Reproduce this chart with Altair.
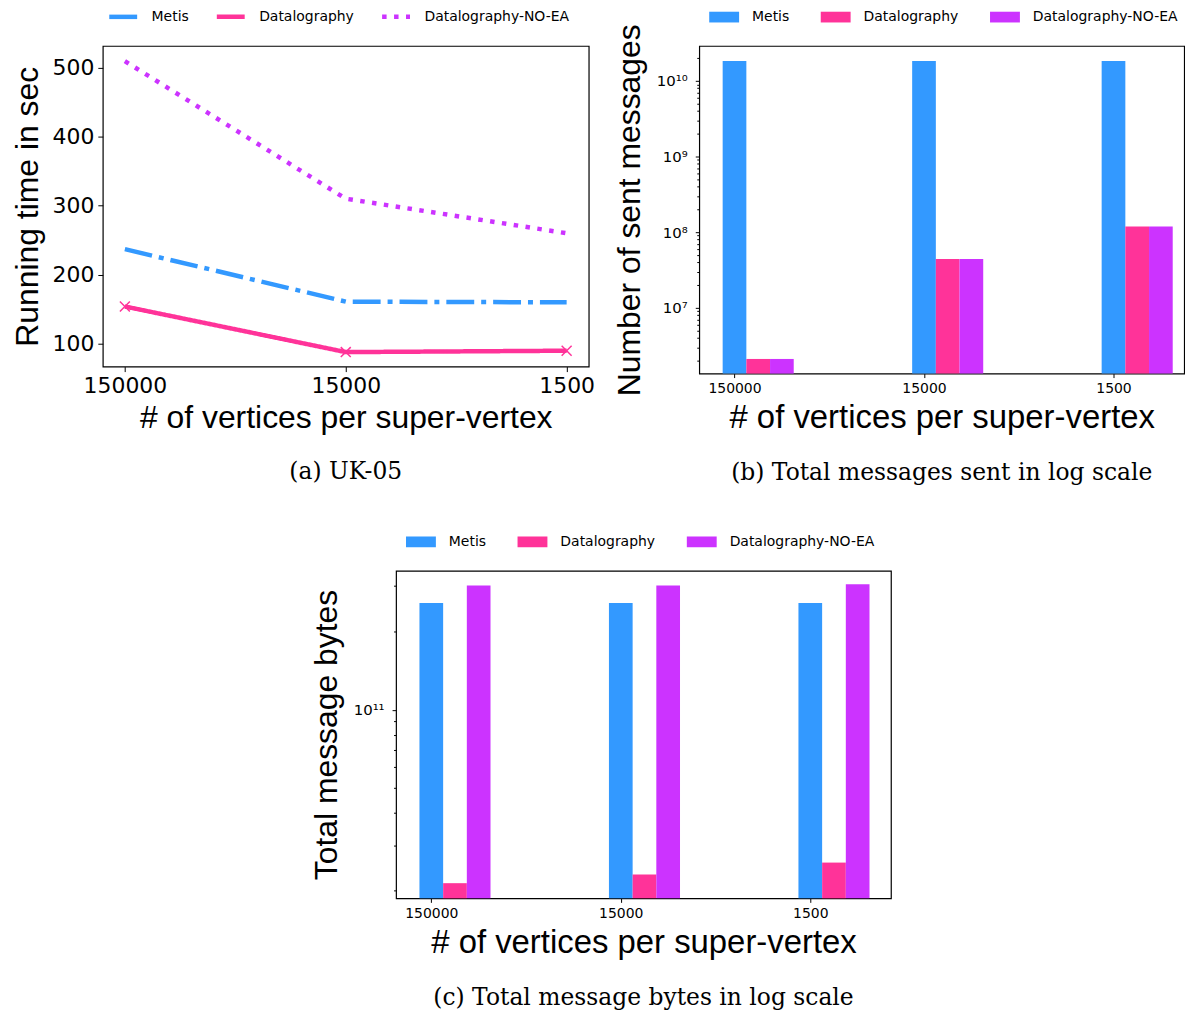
import json
import math
import altair as alt
import pandas as pd

# ---------------- data ----------------
categories = ["150000", "15000", "1500"]
series_names = ["Metis", "Datalography", "Datalography-NO-EA"]
series_colors = ["#3399FF", "#FF3399", "#CC33FF"]

runtime_metis = [237, 161, 160]
runtime_datalography = [154, 88, 90]
runtime_noea = [509, 310, 260]

sent_metis = [1.83e10, 1.83e10, 1.83e10]
sent_datalography = [2.1e6, 4.4e7, 1.19e8]
sent_noea = [2.1e6, 4.4e7, 1.19e8]

bytes_metis = [2.58e11, 2.58e11, 2.58e11]
bytes_datalography = [2.14e10, 2.31e10, 2.57e10]
bytes_noea = [3.02e11, 3.02e11, 3.05e11]

BAR_W = 0.125


def long_df(series_lists):
    rows = []
    for s_i, (name, vals) in enumerate(zip(series_names, series_lists)):
        for c_i, (cat, v) in enumerate(zip(categories, vals)):
            rows.append({"series": name, "cat": cat, "idx": c_i, "s_i": s_i, "value": v})
    df = pd.DataFrame(rows)
    df["x0"] = df["idx"] + df["s_i"] * BAR_W - BAR_W / 2
    df["x1"] = df["x0"] + BAR_W
    return df


cat_expr = json.dumps(categories) + "[datum.value]"

SUP = {"0": "\u2070", "1": "\u00b9", "2": "\u00b2", "3": "\u00b3", "4": "\u2074",
       "5": "\u2075", "6": "\u2076", "7": "\u2077", "8": "\u2078", "9": "\u2079"}


def log_axis_parts(lo, hi):
    ticks, majors = [], []
    for e in range(int(math.floor(math.log10(lo))), int(math.ceil(math.log10(hi))) + 1):
        for m in range(1, 10):
            v = float(m * 10 ** e)
            if lo <= v <= hi:
                ticks.append(v)
                if m == 1:
                    majors.append((v, e))
    expr = "''"
    test = "false"
    for v, e in reversed(majors):
        lab = "10" + "".join(SUP[c] for c in str(e))
        expr = f"datum.value == {v:.0f} ? '{lab}' : ({expr})"
        test = f"datum.value == {v:.0f} || {test}"
    return ticks, expr, test


LABEL_FONT = "DejaVu Sans"
TITLE_FONT = "Liberation Sans"
CAP_FONT = "DejaVu Serif"

color_scale = alt.Scale(domain=series_names, range=series_colors)


def caption(text):
    return alt.TitleParams(text, orient="bottom", anchor="middle", font=CAP_FONT,
                           fontSize=23.5, fontWeight="normal", color="black", offset=27)


# ---------------- (a) running time ----------------
df_a = long_df([runtime_metis, runtime_datalography, runtime_noea])

xa = alt.X("idx:Q", title="# of vertices per super-vertex",
           scale=alt.Scale(domain=[-0.1, 2.1], nice=False, zero=False),
           axis=alt.Axis(values=[0, 1, 2], labelExpr=cat_expr, labelFontSize=22,
                         tickSize=5, labelPadding=4, titlePadding=6))
ya = alt.Y("value:Q", title="Running time in sec",
           scale=alt.Scale(domain=[67, 531], nice=False, zero=False),
           axis=alt.Axis(values=[100, 200, 300, 400, 500], labelFontSize=22,
                         tickSize=5, labelPadding=4, titlePadding=8))

leg_a = alt.Legend(title=None, orient="none", legendX=4, legendY=-46, direction="horizontal",
                   columns=3, symbolType="stroke", symbolSize=784, symbolStrokeWidth=4.5,
                   labelOffset=12, columnPadding=18, labelFontSize=14, labelFont=LABEL_FONT,
                   labelColor="black")

lines_a = alt.Chart(df_a).mark_line(strokeWidth=4.5, strokeCap="butt").encode(
    x=xa, y=ya,
    color=alt.Color("series:N", scale=color_scale, legend=leg_a, sort=series_names),
    strokeDash=alt.StrokeDash("series:N", legend=leg_a, sort=series_names,
                              scale=alt.Scale(domain=series_names,
                                              range=[[28, 7, 5, 7], [1, 0], [4.5, 7.5]])),
)
pts_a = alt.Chart(df_a).transform_filter(alt.datum.series == "Datalography").mark_point(
    shape="M-1,-1L1,1M-1,1L1,-1", size=100, filled=False, strokeWidth=1.5,
    color=series_colors[1], opacity=1).encode(x=xa, y=ya)

chart_a = alt.layer(lines_a, pts_a).properties(width=488, height=322, title=caption("(a) UK-05"))

# ---------------- bar panels ----------------
rect_path = "M-1,-0.36H1V0.36H-1Z"
UNIT_PX = 190.3


def bar_panel(df, ytitle, lo, hi, cap, width, height):
    ticks, lab_expr, major_test = log_axis_parts(lo, hi)
    leg = alt.Legend(title=None, orient="none", legendX=10, legendY=-44, direction="horizontal",
                     columns=3, symbolType=rect_path, symbolSize=900, symbolStrokeWidth=0,
                     labelOffset=13, columnPadding=31, labelFontSize=14, labelFont=LABEL_FONT,
                     labelColor="black")
    x_lo = -0.186
    x = alt.X("x0:Q", title="# of vertices per super-vertex",
              scale=alt.Scale(domain=[x_lo, x_lo + width / UNIT_PX], nice=False, zero=False),
              axis=alt.Axis(values=[0, 1, 2], labelExpr=cat_expr, labelFontSize=14,
                            tickSize=4, labelPadding=4, titlePadding=6, titleFontSize=33))
    y = alt.Y("value:Q", title=ytitle,
              scale=alt.Scale(type="log", domain=[lo, hi], nice=False),
              axis=alt.Axis(values=ticks, labelExpr=lab_expr, labelFontSize=15,
                            tickSize={"condition": {"test": major_test, "value": 4}, "value": 2.5},
                            labelPadding=8, titlePadding=10))
    return alt.Chart(df).mark_bar().encode(
        x=x, x2="x1:Q", y=y, y2=alt.datum(lo),
        color=alt.Color("series:N", scale=color_scale, legend=leg, sort=series_names),
        order=alt.Order("s_i:Q"),
    ).properties(width=width, height=height, title=caption(cap))


df_b = long_df([sent_metis, sent_datalography, sent_noea])
chart_b = bar_panel(df_b, "Number of sent messages", 1.345e6, 2.9e10,
                    "(b) Total messages sent in log scale", 487, 329)

df_c = long_df([bytes_metis, bytes_datalography, bytes_noea])
chart_c = bar_panel(df_c, "Total message bytes", 1.87e10, 3.44e11,
                    "(c) Total message bytes in log scale", 497, 329)

top = alt.hconcat(chart_a, chart_b, spacing=17).resolve_scale(
    color="independent", strokeDash="independent")
chart = alt.vconcat(top, chart_c, spacing=40, center=True).resolve_scale(
    color="independent", strokeDash="independent"
).properties(
    padding={"left": 2, "top": -11, "right": 0, "bottom": 0}
).configure_view(stroke="black", strokeWidth=1.2).configure_axis(
    grid=False, domain=False, labelFont=LABEL_FONT, labelColor="black", tickColor="black",
    tickWidth=1, titleFont=TITLE_FONT, titleFontSize=32, titleFontWeight="normal",
    titleColor="black"
)

chart.save("out.html", embed_options={"renderer": "svg", "actions": False})
